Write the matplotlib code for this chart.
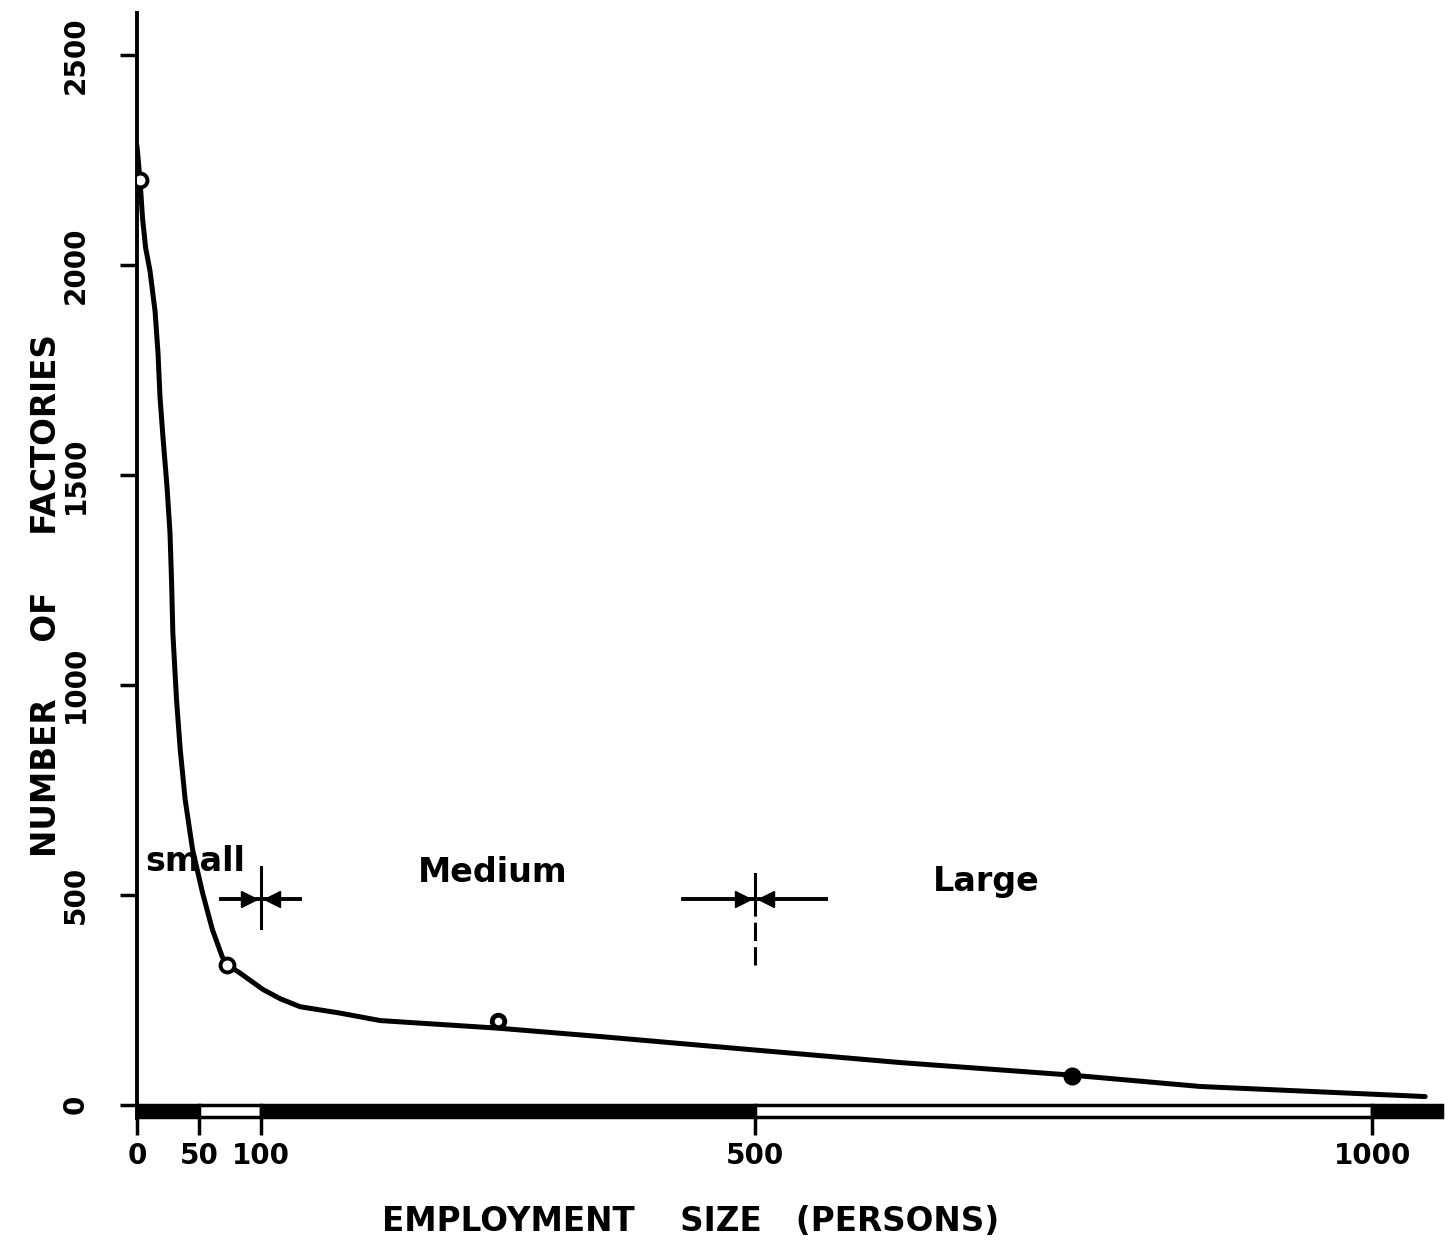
import numpy as np
import matplotlib.pyplot as plt
from matplotlib.patches import Rectangle

# hand-drawn curve
curve_x = [0, 2.4, 4.5, 7, 10.5, 14.6, 17, 18.6, 21, 24.3, 26.7, 28, 29, 32, 35, 39, 45, 53, 61, 69, 73,
           83, 102, 116, 132, 164, 197, 292, 375, 496, 618, 757, 861, 1043]
curve_y = [2283, 2202, 2110, 2040, 1986, 1890, 1790, 1686, 1590, 1471, 1362, 1243, 1124, 964, 845, 726, 607, 505, 417, 352, 333,
           314, 274, 252, 233, 218, 200, 182, 162, 131, 100, 70, 43, 19]

# plotted observations
open_x = [2.4, 73]
open_y = [2202, 333]
mid_x = [292]
mid_y = [198]
dot_x = [757]
dot_y = [67]

xticks = [0, 50, 100, 500, 1000]
yticks = [0, 500, 1000, 1500, 2000, 2500]

# scale bar along the x axis: (start, width, filled)
bar_segments = [(0, 50, True), (50, 50, False), (100, 400, True), (500, 500, False), (1000, 57, True)]

# class boundaries
bounds = [100, 500]
size_labels = ['small', 'Medium', 'Large']
label_x = [47, 288, 688]
label_y = [580, 552, 531]

fig = plt.figure(figsize=(14.53, 12.49), dpi=100)
ax = fig.add_axes([0.0943, 0.1049, 0.901, 0.8847])
ax.set_xlim(0, 1060)
ax.set_ylim(-32, 2600)

for s in ['top', 'right', 'bottom']:
    ax.spines[s].set_visible(False)
ax.spines['left'].set_linewidth(2.8)

ax.plot(curve_x, curve_y, color='black', lw=3.6, solid_capstyle='round', solid_joinstyle='round', zorder=3)
ax.plot(open_x, open_y, 'o', ms=10, mfc='white', mec='black', mew=2.8, zorder=4)
ax.plot(mid_x, mid_y, 'o', ms=9, mfc='white', mec='black', mew=3.5, zorder=4)
ax.plot(dot_x, dot_y, 'o', ms=12, color='black', zorder=4)

# bar on the x axis
for start, width, filled in bar_segments:
    ax.add_patch(Rectangle((start, -30), width, 28, facecolor='black' if filled else 'white',
                           edgecolor='black', lw=2.5, clip_on=False, zorder=5))

# boundary markers with arrows
half = [32, 58]
vlo = [421, 333]
vhi = [567, 548]
for b, h, lo, hi in zip(bounds, half, vlo, vhi):
    ax.plot([b - h, b + h], [489, 489], color='black', lw=2.8)
    if b == 100:
        ax.plot([b, b], [lo, hi], color='black', lw=2.2)
    else:
        ax.plot([b, b], [480, hi], color='black', lw=2.2)
        ax.plot([b, b], [lo, 480], color='black', lw=2.2, ls=(0, (6, 2)))
    ax.plot([b - 9], [489], marker='>', ms=12, color='black')
    ax.plot([b + 9], [489], marker='<', ms=12, color='black')

for t, x, y in zip(size_labels, label_x, label_y):
    ax.text(x, y, t, fontsize=24, ha='center', va='center', fontweight='bold')

ax.set_xticks(xticks)
ax.set_xticklabels([str(v) for v in xticks], fontsize=20, fontweight='bold')
ax.set_yticks(yticks)
ax.set_yticklabels([str(v) for v in yticks], fontsize=20, fontweight='bold', rotation=90, va='center')
ax.tick_params(axis='x', direction='out', length=12, width=2.5, pad=5)
ax.tick_params(axis='y', direction='out', length=12, width=2.5, pad=22)

ax.set_xlabel('EMPLOYMENT    SIZE   (PERSONS)', fontsize=23.5, fontweight='bold', va='center')
ax.xaxis.set_label_coords(0.4225, -0.094)
ax.set_ylabel('NUMBER     OF     FACTORIES', fontsize=23.5, fontweight='bold', va='center')
ax.yaxis.set_label_coords(-0.0695, 0.473)

plt.savefig('out.png', dpi=100)
